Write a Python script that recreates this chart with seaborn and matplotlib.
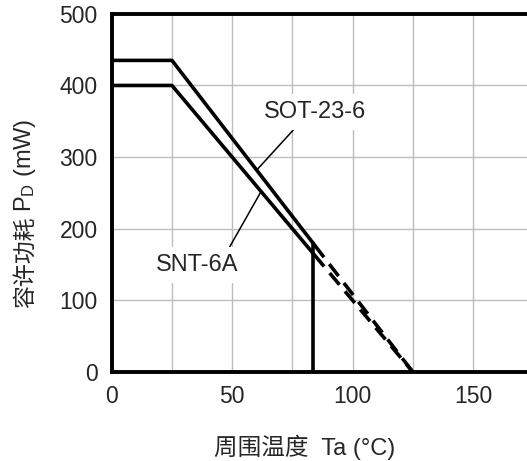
import matplotlib
matplotlib.use("Agg")
import matplotlib.pyplot as plt
import seaborn as sns
import pandas as pd

# Data
temps_solid = [0, 25, 87]
temps_dash = [87, 125]
sot_solid = [435, 435, 165]
sot_dash = [165, 0]
snt_solid = [400, 400, 152]
snt_dash = [152, 0]
cutoff_x = [83.5, 83.5]
cutoff_y = [0, 180]
x_ticks = [0, 50, 100, 150]
x_minor = [25, 75, 125, 175]
y_ticks = [0, 100, 200, 300, 400, 500]

sns.set_style("white")
plt.rcParams['font.family'] = ['Liberation Sans', 'Noto Sans CJK SC', 'DejaVu Sans']
plt.rcParams['mathtext.fontset'] = 'custom'
plt.rcParams['mathtext.rm'] = 'Liberation Sans'
plt.rcParams['mathtext.it'] = 'Liberation Sans'

fig = plt.figure(figsize=(5.27, 4.61), dpi=100)
ax = fig.add_axes([0.212, 0.193, 0.800, 0.777])

LW = 2.6
solid = pd.DataFrame({"T": temps_solid * 2,
                      "P": sot_solid + snt_solid,
                      "pkg": ["SOT"] * 3 + ["SNT"] * 3})
dash = pd.DataFrame({"T": temps_dash * 2,
                     "P": sot_dash + snt_dash,
                     "pkg": ["SOT"] * 2 + ["SNT"] * 2})
sns.lineplot(data=solid, x="T", y="P", units="pkg", estimator=None,
             color="black", lw=LW, ax=ax, zorder=3, sort=False)
sns.lineplot(data=dash, x="T", y="P", units="pkg", estimator=None,
             color="black", lw=LW, ax=ax, zorder=3, sort=False,
             linestyle=(3.0, (4.2, 2.4)))
sns.lineplot(x=cutoff_x, y=cutoff_y, estimator=None, sort=False,
             color="black", lw=LW, ax=ax, zorder=3)
ax.set_xlabel("")
ax.set_ylabel("")

ax.set_xlim(0, 175)
ax.set_ylim(0, 500)
ax.set_xticks(x_ticks)
ax.set_xticks(x_minor, minor=True)
ax.set_yticks(y_ticks)
ax.grid(True, which="both", color="#bdbdbd", lw=1.0, zorder=0)
ax.set_axisbelow(True)
ax.tick_params(axis="both", which="both", length=0, labelsize=16.5)
ax.tick_params(axis="y", pad=10)
ax.tick_params(axis="x", pad=9)
for s in ax.spines.values():
    s.set_linewidth(2.8)
    s.set_color("black")
    s.set_zorder(5)

# x label
fig.text(305 / 527, 1 - 447 / 461, "周围温度  Ta (°C)", fontsize=17,
         ha="center", va="center")
# y label: CJK part + Latin part with subscript
t1 = fig.text(25 / 527, 1 - 308 / 461, "容许功耗", fontsize=16.5,
              family=['Noto Sans CJK SC'], rotation=90,
              ha="center", va="bottom")
fig.canvas.draw()
ax.annotate("P$_\\mathrm{D}$ (mW)", xy=(0.5, 1.0), xycoords=t1,
            xytext=(0, 3), textcoords="offset points",
            rotation=90, ha="center", va="bottom", fontsize=17,
            annotation_clip=False)

bb = dict(boxstyle="square,pad=0.3", fc="white", ec="none")
ax.annotate("SOT-23-6", xy=(60.2, 282), xytext=(84.4, 363), fontsize=17,
            ha="center", va="center", bbox=bb,
            arrowprops=dict(arrowstyle="-", color="black", lw=1.1,
                            shrinkA=0, shrinkB=0, relpos=(0.35, 0.0)),
            zorder=4)
ax.annotate("SNT-6A", xy=(62, 252), xytext=(35.3, 149.4), fontsize=17,
            ha="center", va="center", bbox=bb,
            arrowprops=dict(arrowstyle="-", color="black", lw=1.1,
                            shrinkA=0, shrinkB=0, relpos=(0.85, 1.0)),
            zorder=4)

fig.savefig("out.png", dpi=100)
